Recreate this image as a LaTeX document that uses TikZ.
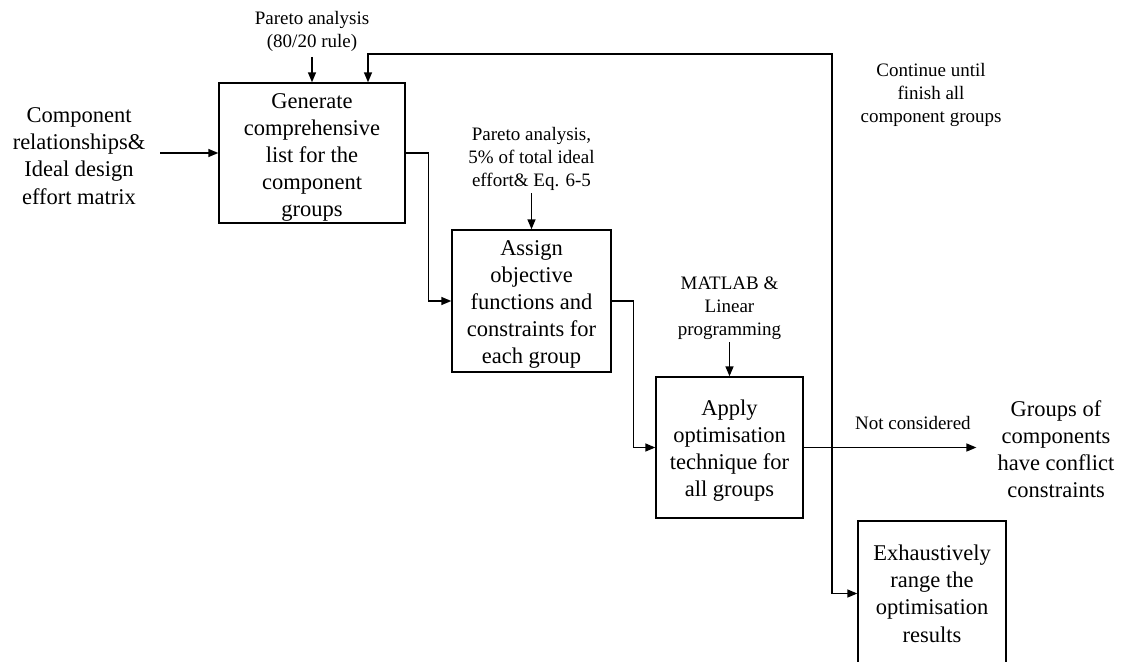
\documentclass[tikz,border=0pt]{standalone}
\usepackage{fontspec}
\setmainfont{Liberation Serif}
\usetikzlibrary{arrows.meta,positioning}
% taller first line, nudging the box text a little lower
\newcommand{\firstline}[1]{\rule{0pt}{#1}}
\begin{document}
\begin{tikzpicture}[x=1pt,y=-1pt,
  bigtext/.style={font=\fontsize{22.5}{27.2}\selectfont, align=center},
  smalltext/.style={font=\fontsize{19}{23.3}\selectfont, align=center},
  stepbox/.style={draw, line width=1.4pt, bigtext, inner sep=0pt},
  arr/.style={line width=1.4pt, -{Triangle[length=10pt,width=8pt]}}]
\useasboundingbox (0,0) rectangle (1129,661);
\clip (0,0) rectangle (1129,661);

% process boxes
\node[stepbox, minimum width=186pt, minimum height=140pt] (gen) at (312,153)
  {\firstline{24pt}Generate\\comprehensive\\list for the\\component\\groups};
\node[stepbox, minimum width=159pt, minimum height=142pt] (assign) at (531.5,301)
  {\firstline{22pt}Assign\\objective\\functions and\\constraints for\\each group};
\node[stepbox, minimum width=147pt, minimum height=141pt] (apply) at (729.5,447.5)
  {\firstline{22pt}Apply\\optimisation\\technique for\\all groups};
\node[stepbox, minimum width=148pt, minimum height=145pt] (exh) at (932,593.5)
  {Exhaustively\\range the\\optimisation\\results};

% inputs, controls and outputs
\node[bigtext, inner sep=0pt] (inlbl) at (79,156)
  {Component\\relationships\&\\Ideal design\\effort matrix};
\node[smalltext, inner sep=0pt, anchor=south] (p1) at (312,52)
  {Pareto analysis\\(80/20 rule)};
\node[smalltext, inner sep=0pt, anchor=south] (p2) at (531.5,191)
  {Pareto analysis,\\5\% of total ideal\\effort\& Eq. 6-5};
\node[smalltext, inner sep=0pt, anchor=south] (mat) at (729.5,340)
  {MATLAB \&\\Linear\\programming};
\node[smalltext, inner sep=0pt] (cont) at (931,95)
  {Continue until\\finish all\\component groups};
\node[bigtext, inner sep=0pt] (groups) at (1056,449)
  {Groups of\\components\\have conflict\\constraints};

% connectors
\draw[arr] ([xshift=15pt]inlbl.east |- gen.west) -- (gen.west);
\draw[arr] ([yshift=-5pt]p1.south) -- (gen.north);
\draw[arr] ([yshift=-2pt]p2.south) -- (assign.north);
\draw[arr] ([yshift=-2pt]mat.south) -- (apply.north);
\draw[arr] (gen.east) -- ++(23,0) |- (assign.west);
\draw[arr] (assign.east) -- ++(22,0) |- (apply.west);
\draw[arr, shorten >=21pt] (apply.east) --
  node[smalltext, pos=0.564, above=17pt, inner sep=0pt] (nc) {Not considered}
  (apply.east -| groups.west);

% feedback loop and ranking
\coordinate (j) at (832,447.5);
\coordinate (top) at (832,54);
\draw[arr] (j) |- (exh.west);
\draw[arr] (j) -- (top) -| ([xshift=56pt]gen.north);
\end{tikzpicture}
\end{document}
